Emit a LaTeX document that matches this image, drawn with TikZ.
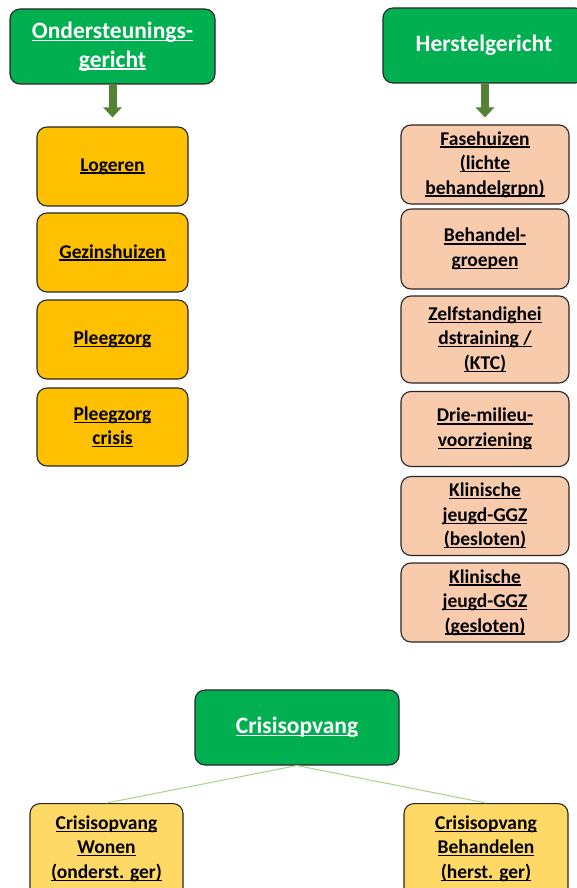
\documentclass[tikz,border=0pt]{standalone}
\usepackage{fontspec}
\setmainfont{Carlito}
\usetikzlibrary{arrows.meta}
\definecolor{hgreen}{HTML}{00B050}
\definecolor{hyellow}{HTML}{FFC000}
\definecolor{hpeach}{HTML}{F8CBAD}
\definecolor{hlyellow}{HTML}{FFD966}
\definecolor{harrow}{HTML}{548235}
\definecolor{hline}{HTML}{A9D18E}
\newcommand{\ul}[1]{\setbox0\hbox{#1}\rlap{\rule[-2.6pt]{\wd0}{1.3pt}}\box0}
\tikzset{
  basebox/.style={draw=black!85, line width=1.1pt, rounded corners=10pt, align=center, inner sep=0pt},
  headbox/.style={basebox, fill=hgreen, text=white, font=\bfseries\fontsize{23.5}{28.5}\selectfont},
  bodyfont/.style={font=\bfseries\fontsize{19.5}{24.5}\selectfont},
  yellowbox/.style={basebox, bodyfont, fill=hyellow},
  peachbox/.style={basebox, bodyfont, fill=hpeach},
  lyellowbox/.style={basebox, bodyfont, fill=hlyellow},
  bigarrow/.style={draw=harrow, line width=8pt, -{Triangle[width=18pt,length=10pt]}},
  thinline/.style={draw=hline, line width=1pt},
}
\begin{document}
\begin{tikzpicture}[x=1pt,y=-1pt]
\clip (0,0) rectangle (577,888);
\fill[white] (0,0) rectangle (577,888);
% headers
\node[headbox, minimum width=205pt, minimum height=75pt] (ond) at (112.5,46.5) {\ul{Ondersteunings-}\\\ul{gericht}};
\node[headbox, minimum width=202pt, minimum height=75pt] (her) at (484,45.5) {Herstelgericht};
% left column
\node[yellowbox, minimum width=151pt, minimum height=79pt] (log) at (112.5,166.5) {\ul{Logeren}};
\node[yellowbox, minimum width=151pt, minimum height=79pt] (gez) at (112.5,252.5) {\ul{Gezinshuizen}};
\node[yellowbox, minimum width=151pt, minimum height=79pt] (ple) at (112.5,339.5) {\ul{Pleegzorg}};
\node[yellowbox, minimum width=151pt, minimum height=78pt] (plc) at (112.5,427) {\ul{Pleegzorg}\\\ul{crisis}};
% right column
\node[peachbox, minimum width=168pt, minimum height=79pt] (fas) at (485,164.5) {\ul{Fasehuizen}\\\ul{(lichte}\\\ul{behandelgrpn)}};
\node[peachbox, minimum width=168pt, minimum height=80pt] (beh) at (485,249) {\ul{Behandel-}\\\ul{groepen}};
\node[peachbox, minimum width=168pt, minimum height=87pt] (zel) at (485,339.5) {\ul{Zelfstandighei}\\\ul{dstraining /}\\\ul{(KTC)}};
\node[peachbox, minimum width=168pt, minimum height=75pt] (dri) at (485,429) {\ul{Drie-milieu-}\\\ul{voorziening}};
\node[peachbox, minimum width=168pt, minimum height=79pt] (kl1) at (485,516) {\ul{Klinische}\\\ul{jeugd-GGZ}\\\ul{(besloten)}};
\node[peachbox, minimum width=168pt, minimum height=79pt] (kl2) at (485,602.5) {\ul{Klinische}\\\ul{jeugd-GGZ}\\\ul{(gesloten)}};
% arrows
\draw[bigarrow, shorten >=9pt] (ond.south) -- (log.north);
\draw[bigarrow, shorten >=7pt] (fas.north |- her.south) -- (fas.north);
% crisis
\node[headbox, minimum width=204pt, minimum height=75pt] (cri) at (297,727.5) {\ul{Crisisopvang}};
\node[lyellowbox, minimum width=153pt, minimum height=100pt, anchor=north] (cwo) at (106.5,803) {};
\node[lyellowbox, minimum width=164pt, minimum height=100pt, anchor=north] (cbe) at (486,803) {};
\node[bodyfont, align=center, anchor=north] (cwot) at (106.5,812) {\ul{Crisisopvang}\\\ul{Wonen}\\\ul{(onderst. ger)}};
\node[bodyfont, align=center, anchor=north] (cbet) at (486,812) {\ul{Crisisopvang}\\\ul{Behandelen}\\\ul{(herst. ger)}};
\draw[thinline] (cri.south) -- (cwo.north);
\draw[thinline] (cri.south) -- (cbe.north);
\end{tikzpicture}
\end{document}
